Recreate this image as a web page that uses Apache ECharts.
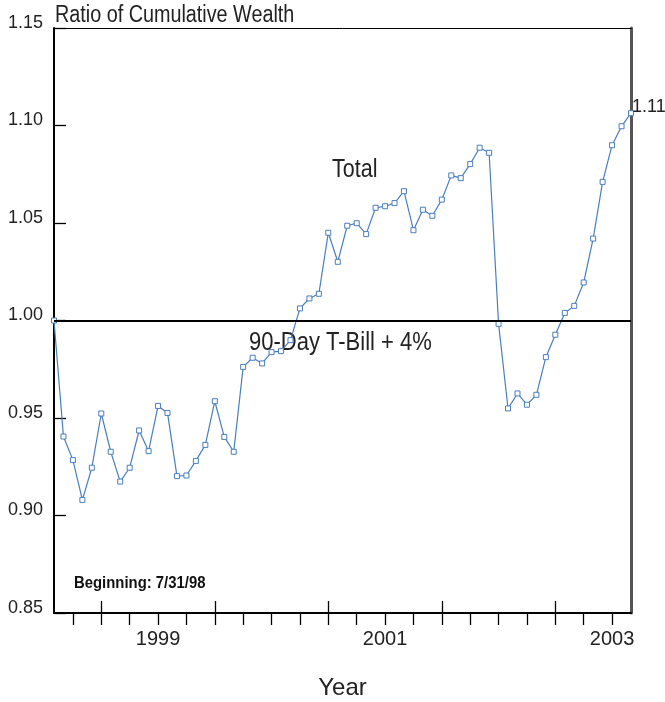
<!DOCTYPE html>
<html>
<head>
<meta charset="utf-8">
<script src="https://cdn.jsdelivr.net/npm/echarts@6/dist/echarts.min.js"></script>
<style>html,body{margin:0;padding:0;background:#fff}#c{width:665px;height:702px}</style>
</head>
<body>
<div id="c"></div>
<script>
var months = [
 '1998-07','1998-08','1998-09','1998-10','1998-11','1998-12',
 '1999-01','1999-02','1999-03','1999-04','1999-05','1999-06','1999-07','1999-08','1999-09','1999-10','1999-11','1999-12',
 '2000-01','2000-02','2000-03','2000-04','2000-05','2000-06','2000-07','2000-08','2000-09','2000-10','2000-11','2000-12',
 '2001-01','2001-02','2001-03','2001-04','2001-05','2001-06','2001-07','2001-08','2001-09','2001-10','2001-11','2001-12',
 '2002-01','2002-02','2002-03','2002-04','2002-05','2002-06','2002-07','2002-08','2002-09','2002-10','2002-11','2002-12',
 '2003-01','2003-02','2003-03','2003-04','2003-05','2003-06','2003-07','2003-08'
];
var wealthRatio = [
 1.000, 0.9405, 0.9284, 0.908, 0.9245, 0.9523, 0.9327, 0.9174, 0.9245, 0.9436,
 0.933, 0.9562, 0.9526, 0.9202, 0.9205, 0.928, 0.9362, 0.9586, 0.9403, 0.9327,
 0.9762, 0.9809, 0.978, 0.9838, 0.9843, 0.9899, 1.0062, 1.0113, 1.0137, 1.045,
 1.0301, 1.0486, 1.0499, 1.0443, 1.0578, 1.0586, 1.0602, 1.0663, 1.0463, 1.0568,
 1.0537, 1.062, 1.0744, 1.073, 1.0802, 1.0886, 1.086, 0.9983, 0.9549, 0.9626,
 0.9568, 0.9619, 0.9812, 0.9927, 1.0039, 1.0075, 1.0195, 1.042, 1.0711, 1.0899,
 1.0996, 1.1063
];
var benchmarkLevel = 1.00;
var yearLabelMonths = ['1999-06', '2001-06', '2003-06'];
var yearLabels = ['1999', '2001', '2003'];
var quarterEndMonths = ['03', '06', '09', '12'];
var yearEndMonth = '12';

var FONT = "'Liberation Sans', Arial, sans-serif";
var SX = 0.86;
var chart = echarts.init(document.getElementById('c'), null, {renderer: 'canvas'});

chart.setOption({
  animation: false,
  grid: {left: 54, right: 34, top: 28, bottom: 89, containLabel: false, outerBoundsMode: 'none'},
  xAxis: [
    {
      type: 'category', data: months, boundaryGap: false, position: 'bottom',
      axisLine: {show: true, lineStyle: {color: '#000', width: 2}},
      axisTick: {show: true, inside: false, length: 12, lineStyle: {color: '#000', width: 1.3},
        interval: function (i, v) { return quarterEndMonths.indexOf(v.slice(5)) >= 0; }},
      axisLabel: {show: true, margin: 16, color: '#222', fontFamily: FONT, fontSize: 20,
        interval: function (i, v) { return yearLabelMonths.indexOf(v) >= 0; },
        formatter: function (v) { var k = yearLabelMonths.indexOf(v); return k >= 0 ? yearLabels[k] : ''; }},
      splitLine: {show: false},
      name: 'Year', nameLocation: 'middle', nameGap: 63,
      nameTextStyle: {fontFamily: FONT, fontSize: 24, color: '#222'}
    },
    {
      type: 'category', data: months, boundaryGap: false, position: 'bottom', offset: 0,
      axisLine: {show: false},
      axisTick: {show: true, inside: true, length: 12, lineStyle: {color: '#000', width: 1.3},
        interval: function (i, v) { return v.slice(5) === yearEndMonth; }},
      axisLabel: {show: false}, splitLine: {show: false}
    },
    {
      type: 'category', data: months, boundaryGap: false, position: 'top',
      axisLine: {show: true, lineStyle: {color: '#000', width: 1}},
      axisTick: {show: false}, axisLabel: {show: false}, splitLine: {show: false}
    }
  ],
  yAxis: [
    {
      type: 'value', min: 0.85, max: 1.15, interval: 0.05, position: 'left',
      axisLine: {show: true, lineStyle: {color: '#000', width: 2}},
      axisTick: {show: true, inside: true, length: 12, lineStyle: {color: '#000', width: 1.3}},
      axisLabel: {margin: 11, verticalAlign: 'middle',
        formatter: function (v) { return '{t|' + v.toFixed(2) + '}'; },
        rich: {t: {fontFamily: FONT, fontSize: 18, color: '#222', padding: [0, 0, 10, 0]}}},
      splitLine: {show: false}
    },
    {
      type: 'value', min: 0.85, max: 1.15, position: 'right',
      axisLine: {show: true, lineStyle: {color: '#555', width: 3}},
      axisTick: {show: false}, axisLabel: {show: false}, splitLine: {show: false}
    }
  ],
  series: [{
    type: 'line', name: 'Total', data: wealthRatio, xAxisIndex: 0, yAxisIndex: 0,
    symbol: 'rect', symbolSize: 5, showAllSymbol: true,
    lineStyle: {color: '#4a7ebb', width: 1.2},
    itemStyle: {color: '#fff', borderColor: '#4a7ebb', borderWidth: 1},
    endLabel: {show: true, formatter: function (p) { return p.value.toFixed(2); },
      fontFamily: FONT, fontSize: 18, color: '#222', offset: [1, -6], distance: 0},
    markLine: {
      silent: true, symbol: 'none', label: {show: false},
      lineStyle: {color: '#000', width: 2, type: 'solid'},
      data: [{yAxis: benchmarkLevel}]
    },
    z: 3
  }],
  graphic: [
    {type: 'text', x: 55, y: 16, scaleX: SX,
      style: {text: 'Ratio of Cumulative Wealth', font: '23px ' + FONT, fill: '#222', textVerticalAlign: 'middle'}},
    {type: 'text', x: 332, y: 170, scaleX: SX,
      style: {text: 'Total', font: '25px ' + FONT, fill: '#222', textVerticalAlign: 'middle'}},
    {type: 'text', x: 249, y: 343, scaleX: 0.88,
      style: {text: '90-Day T-Bill + 4%', font: '25px ' + FONT, fill: '#222', textVerticalAlign: 'middle'}},
    {type: 'text', x: 74, y: 584, scaleX: 0.93,
      style: {text: 'Beginning: 7/31/98', font: 'bold 16px ' + FONT, fill: '#111', textVerticalAlign: 'middle'}}
  ]
});
</script>
</body>
</html>
